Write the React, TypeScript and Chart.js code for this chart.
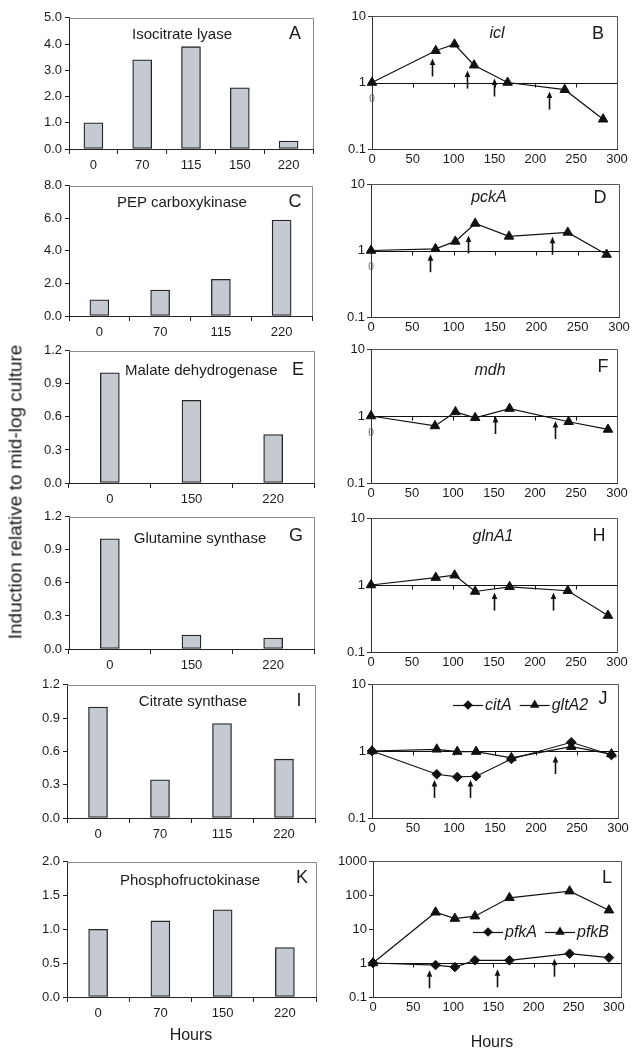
import React, { useEffect, useRef } from "react";
import { Chart, registerables } from "chart.js";

Chart.register(...registerables);

const FONT = '"Liberation Sans", Arial, Helvetica, sans-serif';
const INK = "#1b1b1b";
Chart.defaults.font.family = FONT;
Chart.defaults.color = INK;

// ---------- Left column: enzyme activity (bars) ----------
const hoursA = ["0", "70", "115", "150", "220"];
const iclActivity = [1.0, 3.4, 3.9, 2.33, 0.3];
const hoursC = ["0", "70", "115", "220"];
const pckActivity = [1.0, 1.6, 2.25, 5.9];
const hoursE = ["0", "150", "220"];
const mdhActivity = [1.0, 0.75, 0.44];
const hoursG = ["0", "150", "220"];
const glnActivity = [1.0, 0.126, 0.1];
const hoursI = ["0", "70", "115", "220"];
const citActivity = [1.0, 0.345, 0.85, 0.53];
const hoursK = ["0", "70", "150", "220"];
const pfkActivity = [1.0, 1.125, 1.29, 0.73];

// ---------- Right column: transcript levels (log scale) ----------
const hoursB = [0, 78, 101, 125, 166, 236, 283];
const iclExpr = [1, 3.0, 3.76, 1.82, 1.0, 0.78, 0.28];
const arrowHoursB = [73, 116, 149, 217];
const arrowTipB = [2.3, 1.51, 1.15, 0.73];

const hoursD = [0, 78, 102, 126, 167, 238, 285];
const pckExpr = [1, 1.06, 1.37, 2.55, 1.63, 1.87, 0.87];
const arrowHoursD = [71, 117, 219];
const arrowTipD = [0.88, 1.68, 1.61];

const hoursF = [0, 78, 103, 127, 169, 241, 289];
const mdhExpr = [1, 0.71, 1.15, 0.94, 1.29, 0.82, 0.63];
const arrowHoursF = [151, 224];
const arrowTipF = [1.0, 0.84];

const hoursH = [0, 79, 102, 127, 169, 240, 289];
const glnExpr = [1, 1.29, 1.4, 0.8, 0.94, 0.82, 0.35];
const arrowHoursH = [150, 222];
const arrowTipH = [0.77, 0.77];

const hoursJ = [0, 79, 104, 127, 170, 243, 292];
const citAExpr = [1, 0.45, 0.41, 0.42, 0.76, 1.35, 0.87];
const gltA2Expr = [1, 1.06, 0.98, 0.98, 0.79, 1.16, 0.9];
const arrowHoursJ = [75, 120, 223];
const arrowTipJ = [0.37, 0.37, 0.84];

const hoursL = [0, 78, 102, 127, 170, 245, 294];
const pfkAExpr = [1, 0.87, 0.76, 1.2, 1.2, 1.88, 1.44];
const pfkBExpr = [1, 31, 20.3, 23.8, 82.6, 130, 35.8];
const arrowHoursL = [70, 154, 225];
const arrowTipL = [0.61, 0.65, 1.34];

const hourTicks = [0, 50, 100, 150, 200, 250, 300];
const midlineTicks = [50, 100, 150, 200, 250];
const decades = [0.1, 1, 10, 100, 1000];

// ---------- layout constants ----------
const LEFT_YW = 55;
const RIGHT_YW = 42;
const XH = 34;
const PT = 10;
const PR = 14;
const ARROW_LEN = 18;

type Rect = { l: number; t: number; r: number; b: number };

function box(rect: Rect, yw: number) {
  return {
    left: rect.l - yw,
    top: rect.t - PT,
    width: rect.r - rect.l + yw + PR,
    height: rect.b - rect.t + PT + XH,
  };
}

const tickFont = { family: FONT, size: 13 };

function framePlugin(color: string) {
  return {
    id: "frame",
    afterDraw(chart: any) {
      const { ctx, chartArea: a } = chart;
      ctx.save();
      ctx.strokeStyle = color;
      ctx.lineWidth = 1;
      ctx.beginPath();
      ctx.moveTo(a.left, Math.round(a.top) + 0.5);
      ctx.lineTo(Math.round(a.right) + 0.5, Math.round(a.top) + 0.5);
      ctx.lineTo(Math.round(a.right) + 0.5, a.bottom);
      ctx.stroke();
      ctx.restore();
    },
  };
}

function barConfig(labels: string[], values: number[], max: number, step: number) {
  return {
    type: "bar",
    data: {
      labels,
      datasets: [
        {
          data: values,
          backgroundColor: "#c5c9d1",
          borderColor: "#262626",
          borderWidth: 1.3,
          borderSkipped: false,
          barThickness: 19,
        },
      ],
    },
    options: {
      animation: false,
      responsive: false,
      maintainAspectRatio: false,
      events: [],
      layout: { padding: { top: PT, right: PR, left: 0, bottom: 0 } },
      plugins: { legend: { display: false }, tooltip: { enabled: false } },
      scales: {
        x: {
          grid: { offset: true, drawOnChartArea: false, drawTicks: true, tickLength: 5, color: "#222", lineWidth: 1 },
          border: { color: "#222", width: 1 },
          ticks: { color: INK, font: tickFont, padding: 4, maxRotation: 0, autoSkip: false },
          afterFit: (s: any) => {
            s.height = XH;
          },
        },
        y: {
          min: 0,
          max,
          ticks: {
            stepSize: step,
            color: INK,
            font: tickFont,
            padding: 3,
            callback: (v: any) => Number(v).toFixed(1),
          },
          grid: { drawOnChartArea: false, tickLength: 4, color: "#222" },
          border: { color: "#222", width: 1 },
          afterFit: (s: any) => {
            s.width = LEFT_YW;
          },
        },
      },
    },
    plugins: [framePlugin("#8a8a8a")],
  };
}

type Series = { label: string; xs: number[]; ys: number[]; marker: "triangle" | "rectRot" };
type LegendPos = { dx: number; dy: number };

function drawMarker(ctx: any, marker: string, x: number, y: number) {
  ctx.beginPath();
  if (marker === "triangle") {
    const r = 5.5;
    ctx.moveTo(x, y - r);
    ctx.lineTo(x + 0.866 * r, y + 0.5 * r);
    ctx.lineTo(x - 0.866 * r, y + 0.5 * r);
  } else {
    const r = 4.8;
    ctx.moveTo(x - r, y);
    ctx.lineTo(x, y - r);
    ctx.lineTo(x + r, y);
    ctx.lineTo(x, y + r);
  }
  ctx.closePath();
  ctx.fill();
}

function transcriptPlugin(series: Series[], arrowX: number[], arrowTip: number[], zero: boolean, legend?: LegendPos) {
  return {
    id: "transcript",
    beforeDatasetsDraw(chart: any) {
      const { ctx, chartArea: a, scales } = chart;
      const xs = scales.x;
      const y1 = Math.round(scales.y.getPixelForValue(1)) + 0.5;
      ctx.save();
      ctx.strokeStyle = "#111";
      ctx.lineWidth = 1;
      ctx.beginPath();
      ctx.moveTo(a.left, y1);
      ctx.lineTo(a.right, y1);
      for (const v of midlineTicks) {
        const px = Math.round(xs.getPixelForValue(v)) + 0.5;
        ctx.moveTo(px, y1);
        ctx.lineTo(px, y1 + 4);
      }
      ctx.stroke();
      ctx.restore();
    },
    afterDatasetsDraw(chart: any) {
      const { ctx, chartArea: a, scales } = chart;
      const xs = scales.x;
      const ys = scales.y;
      ctx.save();
      ctx.fillStyle = "#111";
      ctx.strokeStyle = "#111";
      // arrows
      arrowX.forEach((hx: number, i: number) => {
        const px = Math.round(xs.getPixelForValue(hx)) + 0.5;
        const py = ys.getPixelForValue(arrowTip[i]);
        ctx.lineWidth = 1.6;
        ctx.beginPath();
        ctx.moveTo(px, py + 5);
        ctx.lineTo(px, py + ARROW_LEN);
        ctx.stroke();
        ctx.beginPath();
        ctx.moveTo(px, py);
        ctx.lineTo(px - 2.8, py + 6.5);
        ctx.lineTo(px + 2.8, py + 6.5);
        ctx.closePath();
        ctx.fill();
      });
      if (zero) {
        ctx.font = `10px ${FONT}`;
        ctx.fillStyle = "#666";
        ctx.textAlign = "center";
        ctx.textBaseline = "middle";
        ctx.fillText("0", xs.getPixelForValue(0), ys.getPixelForValue(1) + 17);
      }
      if (legend) {
        let cx = a.left + legend.dx;
        const cy = a.top + legend.dy;
        ctx.font = `italic 16px ${FONT}`;
        ctx.textAlign = "left";
        ctx.textBaseline = "middle";
        for (const s of series) {
          ctx.strokeStyle = "#111";
          ctx.lineWidth = 1.2;
          ctx.beginPath();
          ctx.moveTo(cx, cy + 0.5);
          ctx.lineTo(cx + 30, cy + 0.5);
          ctx.stroke();
          ctx.fillStyle = "#111";
          drawMarker(ctx, s.marker, cx + 15, cy);
          ctx.fillStyle = INK;
          ctx.fillText(s.label, cx + 32, cy + 1);
          cx += 32 + ctx.measureText(s.label).width + 8;
        }
      }
      ctx.restore();
    },
  };
}

function lineConfig(
  series: Series[],
  yMax: number,
  xMax: number,
  arrowX: number[],
  arrowTip: number[],
  zero: boolean,
  legend?: LegendPos
) {
  return {
    type: "line",
    data: {
      datasets: series.map((s) => ({
        label: s.label,
        data: s.xs.map((x, i) => ({ x, y: s.ys[i] })),
        borderColor: "#111",
        borderWidth: 1.2,
        backgroundColor: "#111",
        pointStyle: s.marker,
        pointRadius: s.marker === "triangle" ? 5.5 : 4.8,
        pointBackgroundColor: "#111",
        pointBorderColor: "#111",
        pointBorderWidth: 1,
        tension: 0,
        clip: false,
      })),
    },
    options: {
      animation: false,
      responsive: false,
      maintainAspectRatio: false,
      events: [],
      layout: { padding: { top: PT, right: PR, left: 0, bottom: 0 } },
      plugins: { legend: { display: false }, tooltip: { enabled: false } },
      scales: {
        x: {
          type: "linear",
          min: 0,
          max: xMax,
          afterBuildTicks: (s: any) => {
            s.ticks = hourTicks.map((value) => ({ value }));
          },
          grid: { display: true, drawOnChartArea: false, drawTicks: false },
          border: { color: "#333", width: 1 },
          ticks: { color: INK, font: tickFont, padding: 3, maxRotation: 0, autoSkip: false },
          afterFit: (s: any) => {
            s.height = XH;
          },
        },
        y: {
          type: "logarithmic",
          min: 0.1,
          max: yMax,
          afterBuildTicks: (s: any) => {
            s.ticks = decades.filter((v) => v <= yMax).map((value) => ({ value }));
          },
          ticks: {
            color: INK,
            font: tickFont,
            padding: 2,
            autoSkip: false,
            callback: (v: any) => String(v),
          },
          grid: { drawOnChartArea: false, tickLength: 4, color: "#333" },
          border: { color: "#333", width: 1 },
          afterFit: (s: any) => {
            s.width = RIGHT_YW;
          },
        },
      },
    },
    plugins: [transcriptPlugin(series, arrowX, arrowTip, zero, legend), framePlugin("#555")],
  };
}

function ChartBox({ rect, yw, build }: { rect: Rect; yw: number; build: () => any }) {
  const ref = useRef<HTMLCanvasElement>(null);
  const b = box(rect, yw);
  useEffect(() => {
    const chart = new Chart(ref.current as HTMLCanvasElement, build());
    return () => chart.destroy();
  }, []);
  return (
    <canvas
      ref={ref}
      width={b.width}
      height={b.height}
      style={{ position: "absolute", left: b.left, top: b.top, width: b.width, height: b.height }}
    />
  );
}

function Txt({
  x,
  y,
  text,
  size = 15,
  italic = false,
  left = false,
  rotate = 0,
}: {
  x: number;
  y: number;
  text: string;
  size?: number;
  italic?: boolean;
  left?: boolean;
  rotate?: number;
}) {
  return (
    <div
      style={{
        position: "absolute",
        left: x,
        top: y,
        transform: `translate(${left ? "0" : "-50%"}, -50%)` + (rotate ? ` rotate(${rotate}deg)` : ""),
        fontFamily: FONT,
        fontSize: size,
        fontStyle: italic ? "italic" : "normal",
        lineHeight: 1,
        whiteSpace: "nowrap",
        color: INK,
      }}
    >
      {text}
    </div>
  );
}

export default function App() {
  const rA = { l: 69, t: 17, r: 313, b: 149 };
  const rC = { l: 69, t: 185, r: 312, b: 316 };
  const rE = { l: 69, t: 350, r: 314, b: 483 };
  const rG = { l: 69, t: 516, r: 314, b: 649 };
  const rI = { l: 67, t: 684, r: 315, b: 818 };
  const rK = { l: 67, t: 861, r: 316, b: 997 };
  const rB = { l: 372, t: 16, r: 617, b: 149 };
  const rD = { l: 371, t: 184, r: 619, b: 317 };
  const rF = { l: 371, t: 349, r: 617, b: 483 };
  const rH = { l: 371, t: 518, r: 617, b: 652 };
  const rJ = { l: 372, t: 684, r: 618, b: 818 };
  const rL = { l: 373, t: 861, r: 621, b: 997 };

  return (
    <div style={{ position: "absolute", left: 0, top: 0, width: 637, height: 1050, background: "#fff", overflow: "hidden" }}>
      <ChartBox rect={rA} yw={LEFT_YW} build={() => barConfig(hoursA, iclActivity, 5, 1)} />
      <ChartBox rect={rC} yw={LEFT_YW} build={() => barConfig(hoursC, pckActivity, 8, 2)} />
      <ChartBox rect={rE} yw={LEFT_YW} build={() => barConfig(hoursE, mdhActivity, 1.2, 0.3)} />
      <ChartBox rect={rG} yw={LEFT_YW} build={() => barConfig(hoursG, glnActivity, 1.2, 0.3)} />
      <ChartBox rect={rI} yw={LEFT_YW} build={() => barConfig(hoursI, citActivity, 1.2, 0.3)} />
      <ChartBox rect={rK} yw={LEFT_YW} build={() => barConfig(hoursK, pfkActivity, 2, 0.5)} />

      <ChartBox
        rect={rB}
        yw={RIGHT_YW}
        build={() => lineConfig([{ label: "icl", xs: hoursB, ys: iclExpr, marker: "triangle" }], 10, 300, arrowHoursB, arrowTipB, true)}
      />
      <ChartBox
        rect={rD}
        yw={RIGHT_YW}
        build={() => lineConfig([{ label: "pckA", xs: hoursD, ys: pckExpr, marker: "triangle" }], 10, 300, arrowHoursD, arrowTipD, true)}
      />
      <ChartBox
        rect={rF}
        yw={RIGHT_YW}
        build={() => lineConfig([{ label: "mdh", xs: hoursF, ys: mdhExpr, marker: "triangle" }], 10, 300, arrowHoursF, arrowTipF, true)}
      />
      <ChartBox
        rect={rH}
        yw={RIGHT_YW}
        build={() => lineConfig([{ label: "glnA1", xs: hoursH, ys: glnExpr, marker: "triangle" }], 10, 300, arrowHoursH, arrowTipH, false)}
      />
      <ChartBox
        rect={rJ}
        yw={RIGHT_YW}
        build={() =>
          lineConfig(
            [
              { label: "citA", xs: hoursJ, ys: citAExpr, marker: "rectRot" },
              { label: "gltA2", xs: hoursJ, ys: gltA2Expr, marker: "triangle" },
            ],
            10,
            300,
            arrowHoursJ,
            arrowTipJ,
            false,
            { dx: 81, dy: 21 }
          )
        }
      />
      <ChartBox
        rect={rL}
        yw={RIGHT_YW}
        build={() =>
          lineConfig(
            [
              { label: "pfkA", xs: hoursL, ys: pfkAExpr, marker: "rectRot" },
              { label: "pfkB", xs: hoursL, ys: pfkBExpr, marker: "triangle" },
            ],
            1000,
            309,
            arrowHoursL,
            arrowTipL,
            false,
            { dx: 100, dy: 71 }
          )
        }
      />

      <Txt x={182} y={33} text="Isocitrate lyase" />
      <Txt x={295} y={33} text="A" size={18} />
      <Txt x={182} y={201} text="PEP carboxykinase" />
      <Txt x={295} y={201} text="C" size={18} />
      <Txt x={125} y={369} text="Malate dehydrogenase" left />
      <Txt x={298} y={369} text="E" size={18} />
      <Txt x={200} y={537} text="Glutamine synthase" />
      <Txt x={296} y={535} text="G" size={18} />
      <Txt x={193} y={700} text="Citrate synthase" />
      <Txt x={299} y={700} text="I" size={18} />
      <Txt x={190} y={879} text="Phosphofructokinase" />
      <Txt x={302} y={877} text="K" size={18} />

      <Txt x={497} y={33} text="icl" size={16} italic />
      <Txt x={598} y={33} text="B" size={18} />
      <Txt x={489} y={197} text="pckA" size={16} italic />
      <Txt x={600} y={197} text="D" size={18} />
      <Txt x={490} y={370} text="mdh" size={16} italic />
      <Txt x={603} y={366} text="F" size={18} />
      <Txt x={493} y={536} text="glnA1" size={16} italic />
      <Txt x={599} y={535} text="H" size={18} />
      <Txt x={603} y={698} text="J" size={18} />
      <Txt x={607} y={877} text="L" size={18} />

      <Txt x={191} y={1035} text="Hours" size={16} />
      <Txt x={492} y={1042} text="Hours" size={16} />
      <Txt x={15} y={492} text="Induction relative to mid-log culture" size={19} rotate={-90} />
    </div>
  );
}
